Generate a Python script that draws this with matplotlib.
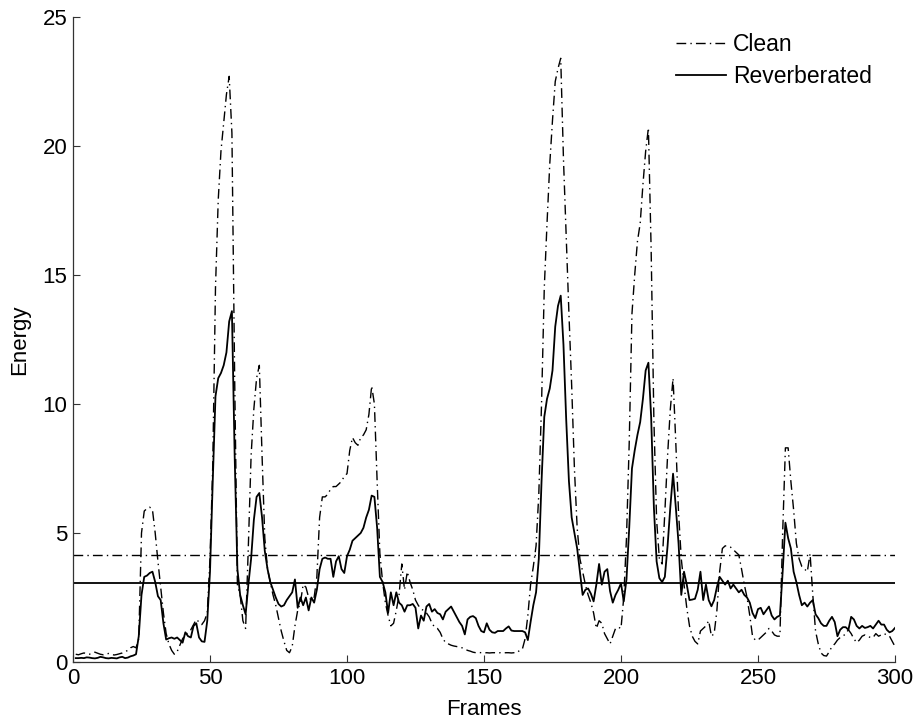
import matplotlib
matplotlib.use("Agg")
import matplotlib.pyplot as plt
import numpy as np

plt.rcParams["font.family"] = ["Liberation Sans", "DejaVu Sans"]

frames = np.arange(1, 301)

clean = [
    0.30, 0.28, 0.32, 0.35, 0.33, 0.30, 0.36, 0.38, 0.34, 0.30,
    0.28, 0.31, 0.33, 0.30, 0.27, 0.29, 0.32, 0.35, 0.40, 0.45,
    0.55, 0.60, 0.55, 0.90, 5.00, 5.85, 5.95, 6.00, 5.90, 5.00,
    3.90, 2.90, 1.90, 1.10, 0.70, 0.45, 0.30, 0.40, 0.65, 0.90,
    1.05, 1.15, 1.25, 1.45, 1.65, 1.55, 1.45, 1.60, 1.90, 4.00,
    7.60, 14.5, 17.9, 19.8, 20.9, 22.0, 22.7, 20.5, 11.0, 3.00,
    2.60, 1.60, 1.30, 4.50, 8.00, 9.80, 11.0, 11.5, 8.00, 4.80,
    3.60, 3.10, 2.60, 2.20, 1.70, 1.20, 0.80, 0.45, 0.36, 0.60,
    1.40, 2.00, 2.30, 3.00, 2.90, 2.50, 2.40, 2.50, 3.30, 5.60,
    6.40, 6.40, 6.50, 6.70, 6.80, 6.80, 6.90, 7.00, 7.20, 7.30,
    8.20, 8.70, 8.50, 8.40, 8.70, 8.80, 9.00, 9.60, 10.7, 10.0,
    7.00, 4.20, 3.10, 2.30, 1.80, 1.40, 1.50, 2.00, 2.60, 3.80,
    2.80, 3.50, 3.10, 2.80, 2.40, 2.20, 2.05, 2.00, 1.90, 1.75,
    1.50, 1.35, 1.30, 1.15, 0.90, 0.75, 0.70, 0.65, 0.62, 0.60,
    0.58, 0.55, 0.50, 0.45, 0.42, 0.38, 0.36, 0.37, 0.36, 0.35,
    0.36, 0.35, 0.36, 0.36, 0.35, 0.36, 0.35, 0.36, 0.36, 0.35,
    0.36, 0.36, 0.45, 0.50, 0.90, 1.80, 3.00, 3.70, 4.50, 6.50,
    10.0, 14.5, 17.0, 19.3, 21.0, 22.5, 23.0, 23.4, 19.5, 16.5,
    13.5, 10.7, 7.50, 5.20, 4.00, 3.50, 3.00, 2.60, 2.30, 1.90,
    1.30, 1.60, 1.50, 1.10, 0.90, 0.70, 1.00, 1.30, 1.35, 1.30,
    2.50, 4.80, 8.50, 13.5, 15.0, 16.3, 17.0, 18.5, 19.8, 20.7,
    16.0, 9.40, 5.50, 4.00, 3.80, 5.80, 8.00, 9.80, 11.0, 8.50,
    5.80, 4.00, 3.00, 2.10, 1.40, 1.00, 0.80, 0.70, 1.20, 1.30,
    1.40, 1.60, 1.00, 1.10, 2.00, 3.50, 4.40, 4.50, 4.50, 4.45,
    4.35, 4.25, 4.15, 3.60, 3.00, 2.50, 1.80, 1.00, 0.85, 0.85,
    0.95, 1.05, 1.15, 1.30, 1.20, 1.05, 1.00, 1.00, 5.00, 8.30,
    8.30, 7.00, 5.90, 4.60, 4.00, 3.70, 3.60, 3.50, 4.20, 2.60,
    1.20, 0.70, 0.35, 0.25, 0.23, 0.40, 0.60, 0.70, 0.85, 0.95,
    1.00, 1.10, 1.25, 1.10, 0.90, 0.75, 0.85, 1.00, 1.05, 1.00,
    0.95, 0.95, 1.10, 1.00, 1.05, 1.10, 1.05, 1.00, 0.80, 0.60,
]

reverb = [
    0.15, 0.15, 0.16, 0.15, 0.18, 0.17, 0.15, 0.14, 0.16, 0.20,
    0.18, 0.15, 0.14, 0.16, 0.15, 0.14, 0.18, 0.20, 0.15, 0.17,
    0.22, 0.25, 0.30, 1.00, 2.60, 3.30, 3.35, 3.45, 3.50, 3.10,
    2.55, 2.40, 1.50, 0.87, 0.92, 0.95, 0.90, 0.95, 0.85, 0.75,
    1.15, 1.00, 0.95, 1.40, 1.50, 0.95, 0.80, 0.78, 1.60, 3.50,
    7.00, 10.3, 11.0, 11.2, 11.5, 12.0, 13.2, 13.6, 8.00, 3.60,
    2.60, 2.20, 1.85, 3.00, 4.00, 5.50, 6.40, 6.55, 5.60, 4.30,
    3.60, 3.10, 2.80, 2.50, 2.25, 2.15, 2.20, 2.40, 2.55, 2.70,
    3.20, 2.10, 2.50, 2.20, 2.50, 2.00, 2.50, 2.30, 2.80, 3.60,
    4.00, 4.05, 4.00, 4.00, 3.30, 3.90, 4.10, 3.60, 3.45, 4.10,
    4.35, 4.70, 4.80, 4.90, 5.00, 5.20, 5.60, 5.90, 6.45, 6.40,
    5.20, 3.30, 3.10, 2.70, 1.90, 2.70, 2.20, 2.70, 2.30, 2.20,
    1.95, 2.20, 2.20, 2.25, 2.10, 1.30, 1.80, 1.60, 2.15, 2.25,
    1.95, 2.05, 1.90, 1.85, 1.65, 1.95, 2.05, 2.15, 1.95, 1.75,
    1.55, 1.40, 1.07, 1.65, 1.75, 1.78, 1.70, 1.40, 1.20, 1.15,
    1.50, 1.25, 1.15, 1.13, 1.20, 1.20, 1.20, 1.30, 1.38, 1.22,
    1.20, 1.20, 1.20, 1.20, 1.15, 0.85, 1.55, 2.20, 2.70, 4.00,
    7.00, 9.50, 10.2, 10.6, 11.3, 13.0, 13.8, 14.2, 12.3, 9.40,
    7.00, 5.60, 5.00, 4.40, 3.50, 2.60, 2.80, 2.85, 2.65, 2.35,
    3.00, 3.80, 3.00, 3.50, 3.60, 2.75, 2.30, 2.60, 2.80, 3.05,
    2.35, 3.20, 5.20, 7.50, 8.20, 8.80, 9.30, 10.2, 11.3, 11.6,
    9.50, 6.00, 3.90, 3.25, 3.10, 3.30, 4.50, 6.00, 7.30, 6.00,
    4.60, 2.60, 3.50, 3.00, 2.40, 2.42, 2.45, 2.80, 3.50, 2.40,
    3.00, 2.40, 2.16, 2.40, 2.90, 3.30, 3.15, 3.00, 3.15, 2.85,
    3.00, 2.85, 2.70, 2.80, 2.60, 2.50, 2.30, 1.90, 1.70, 2.05,
    2.10, 1.85, 2.00, 2.15, 1.80, 1.65, 1.75, 1.80, 3.50, 5.40,
    4.80, 4.40, 3.50, 3.10, 2.60, 2.20, 2.30, 2.15, 2.30, 2.40,
    1.85, 1.70, 1.50, 1.40, 1.40, 1.60, 1.75, 1.55, 1.00, 1.25,
    1.35, 1.35, 1.25, 1.75, 1.65, 1.40, 1.30, 1.40, 1.32, 1.35,
    1.40, 1.30, 1.45, 1.60, 1.45, 1.45, 1.25, 1.15, 1.20, 1.32,
]

# horizontal reference levels (one per signal)
clean_level = 4.14
reverb_level = 3.08

DASHDOT = (0, (7, 3, 1, 3))
FS = 16

fig = plt.figure(figsize=(9.18, 7.2), dpi=100)
ax = fig.add_axes([73 / 918, 58 / 720, 822 / 918, 645 / 720])

ax.plot(frames, clean, color="k", lw=1.0, ls=DASHDOT, label="Clean")
ax.plot(frames, reverb, color="k", lw=1.3, ls="-", label="Reverberated")
ax.axhline(clean_level, color="k", lw=1.0, ls=DASHDOT)
ax.axhline(reverb_level, color="k", lw=1.3, ls="-")

ax.set_xlim(0, 300)
ax.set_ylim(0, 25)
ax.set_xticks(np.arange(0, 301, 50))
ax.set_yticks(np.arange(0, 26, 5))
ax.tick_params(direction="in", length=5, labelsize=FS, top=False, right=False,
               width=0.8, colors="#333333", labelcolor="k", pad=4)
for sp in ("top", "right"):
    ax.spines[sp].set_visible(False)
for sp in ("bottom", "left"):
    ax.spines[sp].set_color("#333333")
    ax.spines[sp].set_linewidth(0.9)

ax.set_xlabel("Frames", fontsize=FS)
ax.set_ylabel("Energy", fontsize=FS, labelpad=9)
ax.xaxis.set_label_coords(0.5, -0.057)

ax.legend(loc="upper left", bbox_to_anchor=(676 / 918, 1 - 33 / 720),
          bbox_transform=fig.transFigure, frameon=False, fontsize=16.5,
          borderpad=0, borderaxespad=0, handlelength=2.2, handletextpad=0.3,
          labelspacing=0.4)

fig.savefig("out.png", dpi=100)
